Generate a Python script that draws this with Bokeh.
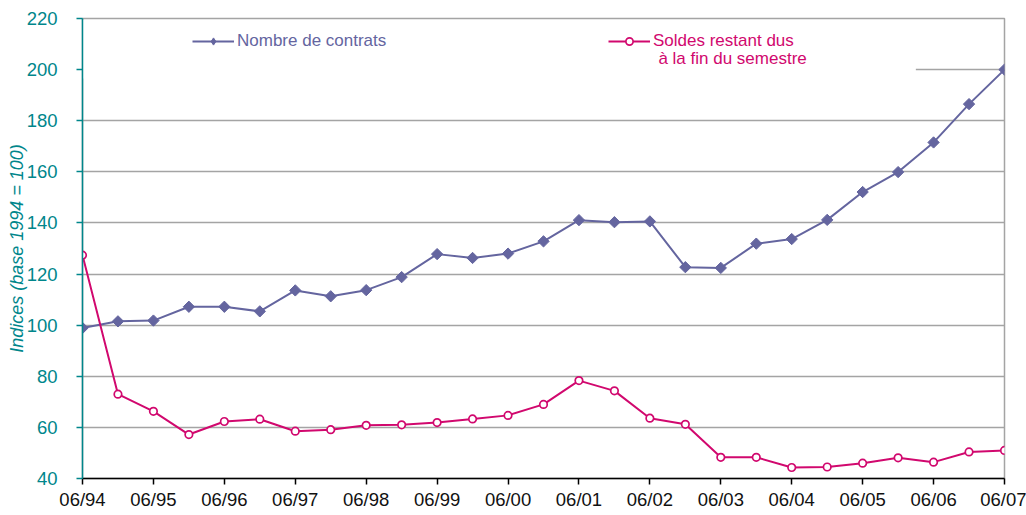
import math
from bokeh.plotting import figure
from bokeh.models import (Range1d, FixedTicker, Legend, LegendItem, Label, BoxAnnotation,
                          ColumnDataSource, CDSView, IndexFilter)
from bokeh.embed import file_html
from bokeh.resources import INLINE

# ---- data ----
periods = ["06/94", "12/94", "06/95", "12/95", "06/96", "12/96", "06/97", "12/97",
           "06/98", "12/98", "06/99", "12/99", "06/00", "12/00", "06/01", "12/01",
           "06/02", "12/02", "06/03", "12/03", "06/04", "12/04", "06/05", "12/05",
           "06/06", "12/06", "06/07"]
contrats = [98.9, 101.5, 101.8, 107.2, 107.2, 105.4, 113.6, 111.3, 113.7, 118.8,
            127.8, 126.3, 128.0, 132.8, 141.1, 140.3, 140.6, 122.7, 122.4, 131.9,
            133.7, 141.2, 152.1, 159.9, 171.5, 186.5, 200.0]
soldes = [127.4, 73.0, 66.3, 57.2, 62.3, 63.2, 58.5, 59.1, 60.8, 61.0,
          61.9, 63.3, 64.7, 69.0, 78.3, 74.3, 63.6, 61.2, 48.3, 48.3,
          44.3, 44.5, 46.0, 48.1, 46.4, 50.4, 51.0]
y_ticks = [40, 60, 80, 100, 120, 140, 160, 180, 200, 220]
label_contrats = "Nombre de contrats"
label_soldes_1 = "Soldes restant dus"
label_soldes_2 = "à la fin du semestre"
y_title = "Indices (base 1994 = 100)"

x = list(range(len(periods)))
year_ticks = [i for i in x if periods[i].startswith("06/")]

BLUE = "#64659f"
PINK = "#d1086e"
TEAL = "#00868b"
GRID = "#a4a4a4"
FONT = "Liberation Sans"
TICK_FS = "18.5px"

p = figure(width=1026, height=515, output_backend="svg", toolbar_location=None,
           x_range=Range1d(0, len(periods) - 1), y_range=Range1d(40, 220),
           min_border_left=82, min_border_right=22, min_border_top=18, min_border_bottom=37)
p.outline_line_color = GRID
p.outline_line_width = 1.5
p.background_fill_color = "white"
p.border_fill_color = "white"

# grids
p.xgrid.visible = False
p.ygrid.ticker = FixedTicker(ticks=y_ticks)
p.ygrid.grid_line_color = GRID
p.ygrid.grid_line_width = 1.5

# y axis
ya = p.yaxis[0]
ya.ticker = FixedTicker(ticks=y_ticks)
ya.axis_line_color = TEAL
ya.axis_line_width = 1.5
ya.major_tick_line_color = TEAL
ya.major_tick_line_width = 1.5
ya.major_tick_out = 6
ya.major_tick_in = 0
ya.minor_tick_line_color = None
ya.major_label_text_color = TEAL
ya.major_label_text_font = FONT
ya.major_label_text_font_size = TICK_FS
ya.major_label_standoff = 19
ya.axis_label = y_title
ya.axis_label_text_color = TEAL
ya.axis_label_text_font = FONT
ya.axis_label_text_font_style = "italic"
ya.axis_label_text_font_size = "18px"
ya.axis_label_standoff = -3

# x axis
xa = p.xaxis[0]
xa.ticker = FixedTicker(ticks=year_ticks)
xa.major_label_overrides = {i: periods[i] for i in year_ticks}
xa.axis_line_color = "black"
xa.axis_line_width = 1.5
xa.major_tick_line_color = "black"
xa.major_tick_line_width = 1.5
xa.major_tick_out = 6
xa.major_tick_in = 0
xa.minor_tick_line_color = None
xa.major_label_text_color = "#111111"
xa.major_label_text_font = FONT
xa.major_label_text_font_size = TICK_FS
xa.major_label_standoff = 4

# white box behind the legend (covers the grid line as in the original)
p.add_layout(BoxAnnotation(left=0, right=23.5, bottom=196.5, top=219.4,
                           fill_color="white", fill_alpha=1, line_color=None,
                           level="underlay"))

# series
src1 = ColumnDataSource(dict(x=x, y=contrats))
l1 = p.line("x", "y", source=src1, line_color=BLUE, line_width=2)
# legend swatch marker (one point, hidden under the real marker)
m1_key = p.scatter("x", "y", source=src1, view=CDSView(filter=IndexFilter([0])),
                   marker="diamond", size=9, fill_color=BLUE, line_color=BLUE)
m1 = p.scatter("x", "y", source=src1, marker="square", size=8, angle=math.pi / 4,
               fill_color=BLUE, line_color=BLUE)
l2 = p.line(x, soldes, line_color=PINK, line_width=2)
m2 = p.scatter(x, soldes, marker="circle", size=7.5, fill_color="white", line_color=PINK,
               line_width=1.7)

def make_legend(label, renderers, color, loc):
    return Legend(items=[LegendItem(label=label, renderers=renderers)],
                  location=loc, orientation="horizontal",
                  background_fill_alpha=0, border_line_color=None,
                  padding=0, margin=0, spacing=0,
                  glyph_width=42, glyph_height=18, label_standoff=3,
                  label_text_color=color, label_text_font=FONT,
                  label_text_font_size="17px")

p.add_layout(make_legend(label_contrats, [l1, m1_key], BLUE, (110, 427)))
p.add_layout(make_legend(label_soldes_1, [l2, m2], PINK, (526, 427)))
p.add_layout(Label(x=16.24, y=204.3, text=label_soldes_2, text_color=PINK,
                   text_font=FONT, text_font_size="17px", text_baseline="middle"))

open("out.html", "w").write(file_html(p, INLINE))
